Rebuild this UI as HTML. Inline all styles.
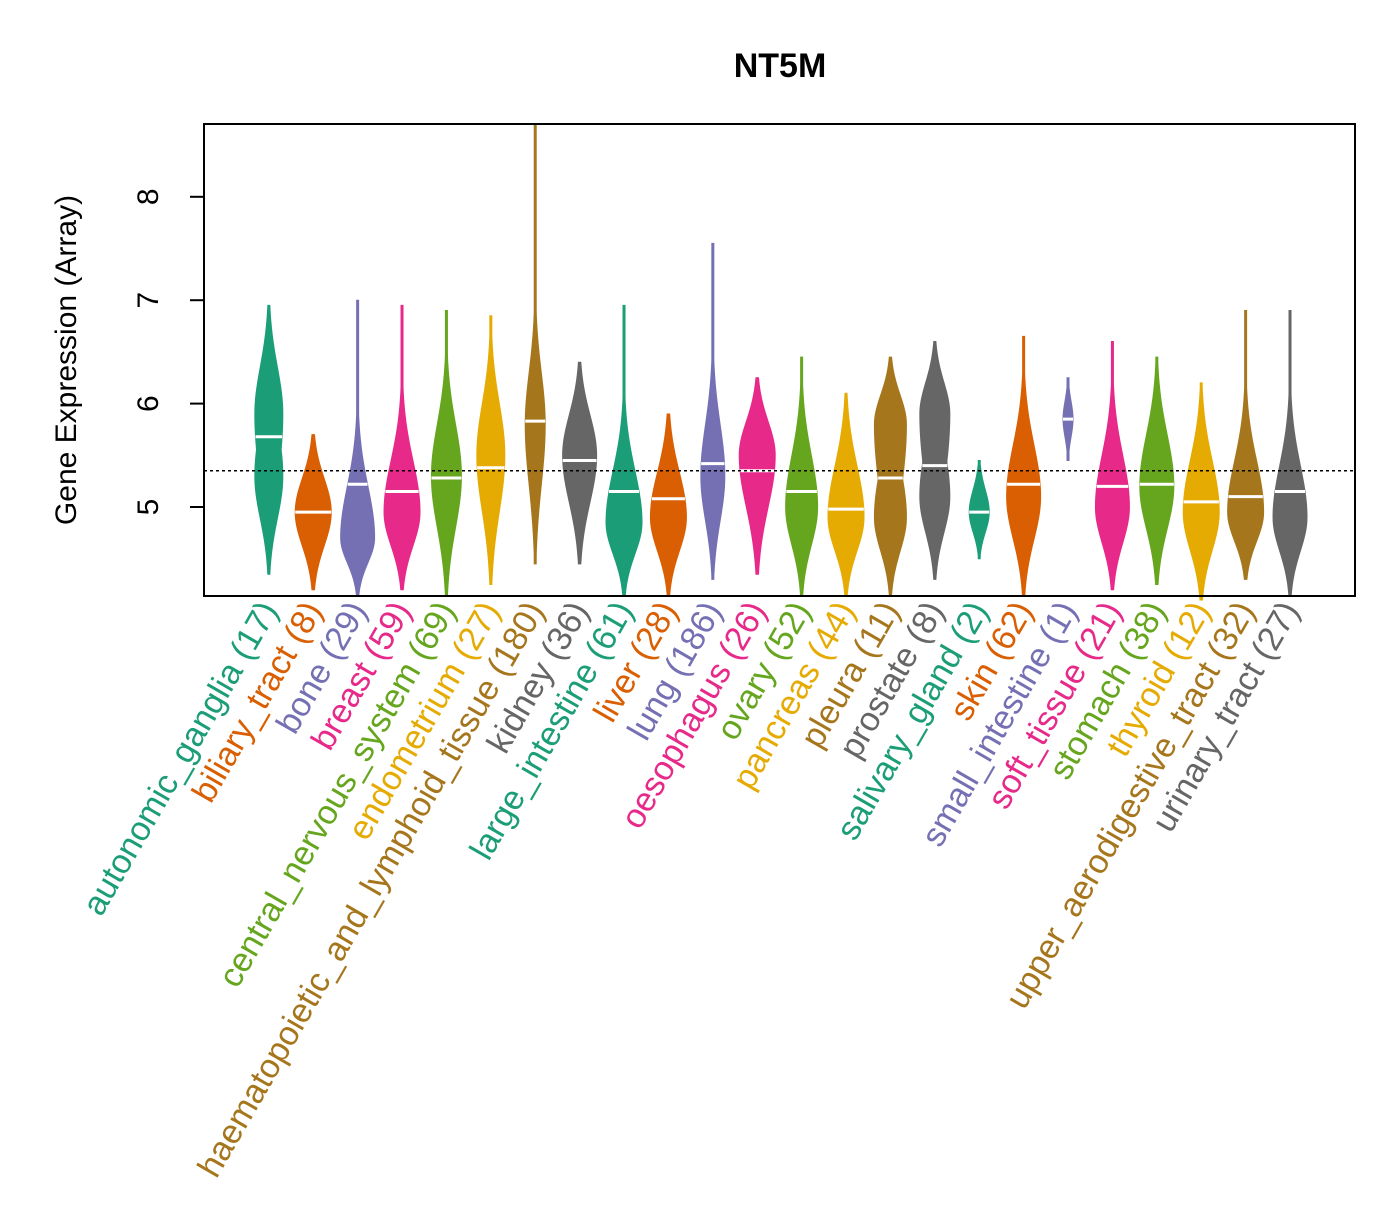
<!DOCTYPE html>
<html><head><meta charset="utf-8"><style>
body{margin:0;background:#fff;}
svg text{font-family:"Liberation Sans",Arial,sans-serif;}
</style></head><body>
<svg id="chart" width="1400" height="1200" xmlns="http://www.w3.org/2000/svg">
<rect width="1400" height="1200" fill="#fff"/>
<text x="780" y="77" font-size="34" font-weight="bold" text-anchor="middle">NT5M</text>
<text transform="translate(76,360) rotate(-90)" font-size="30" text-anchor="middle">Gene Expression (Array)</text>
<g id="marks"></g>
<rect x="204" y="124" width="1151" height="472" fill="none" stroke="#000" stroke-width="2"/>
</svg>
<script>
const categories=["autonomic_ganglia","biliary_tract","bone","breast","central_nervous_system","endometrium","haematopoietic_and_lymphoid_tissue","kidney","large_intestine","liver","lung","oesophagus","ovary","pancreas","pleura","prostate","salivary_gland","skin","small_intestine","soft_tissue","stomach","thyroid","upper_aerodigestive_tract","urinary_tract"];
const counts=[17,8,29,59,69,27,180,36,61,28,186,26,52,44,11,8,2,62,1,21,38,12,32,27];
const mins=[4.35,4.2,4.15,4.2,4.15,4.25,4.45,4.45,4.15,4.15,4.3,4.35,4.15,4.15,4.15,4.3,4.5,4.15,5.45,4.2,4.25,4.1,4.3,4.15];
const maxs=[6.95,5.7,7.0,6.95,6.9,6.85,8.7,6.4,6.95,5.9,7.55,6.25,6.45,6.1,6.45,6.6,5.45,6.65,6.25,6.6,6.45,6.2,6.9,6.9];
const medians=[5.68,4.95,5.22,5.15,5.28,5.38,5.83,5.45,5.15,5.08,5.42,5.35,5.15,4.98,5.28,5.4,4.95,5.22,5.85,5.2,5.22,5.05,5.1,5.15];
const peaks=[5.9,4.95,4.7,4.95,5.3,5.5,5.8,5.5,4.85,4.9,5.3,5.5,5.0,4.9,5.8,5.9,4.95,5.1,5.85,5.0,5.2,4.95,4.95,4.9];
const peaks2=[5.3,4.95,4.7,4.95,5.3,5.5,5.8,5.5,4.85,4.9,5.3,5.5,5.0,4.9,4.9,5.1,4.95,5.1,5.85,5.0,5.2,4.95,4.95,4.9];
const halfWidths=[14,18,17,18,15,14,10,17,18,18,12,18,16,18,16,15,10,17,5,17,17,18,18,17];
const yTicks=[5,6,7,8];
const refLine=5.35;
const colors=["#1B9E77","#D95F02","#7570B3","#E7298A","#66A61E","#E6AB02","#A6761D","#666666"];
const X=i=>204+(i+1.46)*44.4;
const Y=v=>507-(v-5)*103.4;
const NS="http://www.w3.org/2000/svg";
const g=document.getElementById('marks');
function mk(t,a,p){const e=document.createElementNS(NS,t);for(const k in a)e.setAttribute(k,a[k]);(p||g).appendChild(e);return e;}
mk('line',{x1:204,x2:204,y1:Y(yTicks[0]),y2:Y(yTicks[yTicks.length-1]),stroke:'#000','stroke-width':2});
yTicks.forEach(t=>{
 const l=mk('line',{x1:190,x2:204,y1:Y(t),y2:Y(t),stroke:'#000','stroke-width':2});
 
 
 const tx=mk('text',{transform:`translate(158,${Y(t)}) rotate(-90)`,'font-size':30,'text-anchor':'middle'});
 tx.textContent=t;
 
 
});
categories.forEach((c,i)=>{
 const col=colors[i%8],x=X(i),mn=mins[i],mx=maxs[i],hw=halfWidths[i];
 const pk=[peaks[i],peaks2[i]];
 function w(v){let best=0;pk.forEach(p=>{let s;if(v<p)s=Math.max((p-mn)/2.3,0.05);else s=Math.min(Math.max((mx-p)/2.3,0.05),0.5);const z=(v-p)/s;best=Math.max(best,Math.exp(-z*z/2));});return Math.max(hw*best,1);}
 const N=80,L=[],R=[];
 for(let k=0;k<=N;k++){const v=mn+(mx-mn)*k/N;const ww=w(v);R.push(`${x+ww},${Y(v)}`);L.unshift(`${x-ww},${Y(v)}`);}
 const p=mk('polygon',{points:R.concat(L).join(' '),fill:col,stroke:col,'stroke-width':1});
 
 
 const mw=w(medians[i]);
 const m=mk('line',{x1:x-mw,x2:x+mw,y1:Y(medians[i]),y2:Y(medians[i]),stroke:'#fff','stroke-width':3});
 
 
 const lab=mk('text',{transform:`translate(${x+10},${610}) rotate(-60)`,'font-size':34,'text-anchor':'end',fill:col});
 lab.textContent=`${c} (${counts[i]})`;
 
 
});
const rl=mk('line',{x1:204,x2:1355,y1:Y(refLine),y2:Y(refLine),stroke:'#000','stroke-width':1.5,'stroke-dasharray':'3,3'});


</script>
</body></html>
